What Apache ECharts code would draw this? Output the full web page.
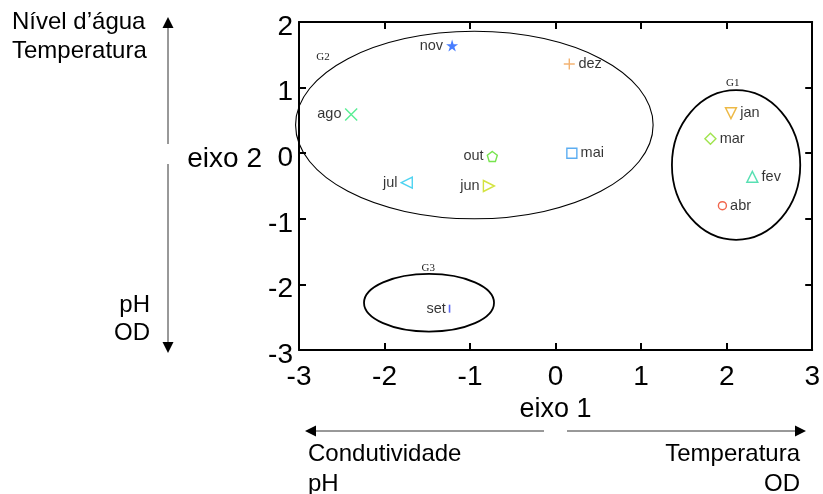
<!DOCTYPE html>
<html><head><meta charset="utf-8">
<script src="https://cdn.jsdelivr.net/npm/echarts@6/dist/echarts.min.js"></script>
<style>html,body{margin:0;padding:0;background:#fff}#c{width:823px;height:494px}</style>
</head><body><div id="c"></div>
<script>
// ---- data ----
const months = ['jan','fev','mar','abr','mai','jun','jul','ago','set','out','nov','dez'];
const eixo1 = [2.05, 2.30, 1.81, 1.95, 0.19, -0.78, -1.74, -2.39, -1.24, -0.74, -1.21, 0.16];
const eixo2 = [0.61, -0.36, 0.22, -0.80, 0.00, -0.50, -0.45, 0.59, -2.37, -0.05, 1.64, 1.36];
const xTicks = [-3, -2, -1, 0, 1, 2, 3];
const yTicks = [-3, -2, -1, 0, 1, 2];
const groups = ['G1', 'G2', 'G3'];
const groupCx = [2.11, -0.95, -1.48];
const groupCy = [-0.18, 0.43, -2.28];
const groupRx = [0.75, 2.09, 0.76];
const groupRy = [1.14, 1.43, 0.44];
const groupLabelX = [2.07, -2.72, -1.49];
const groupLabelY = [1.07, 1.47, -1.75];

// ---- styles ----
const SANS = '"Liberation Sans", Arial, Helvetica, sans-serif';
const SERIF = '"Liberation Serif", "Times New Roman", serif';
const groupLineWidth = {G1: 1.8, G2: 1.1, G3: 1.8};
const monthStyle = {
  jan: {c: '#e8a818', s: 'path://M0,0L10,0L5,10Z', z: 11, side: 'right', fill: false},
  fev: {c: '#2ed8a0', s: 'path://M5,0L10,10L0,10Z', z: 11, side: 'right', fill: false},
  mar: {c: '#88dd22', s: 'diamond', z: 11, side: 'right', fill: false},
  abr: {c: '#ee4020', s: 'circle', z: 8, side: 'right', fill: false},
  mai: {c: '#3399ee', s: 'rect', z: 10, side: 'right', fill: false},
  jun: {c: '#c8dc10', s: 'path://M10,5L0,0L0,10Z', z: 11, side: 'left', fill: false},
  jul: {c: '#22c8ee', s: 'path://M0,5L10,0L10,10Z', z: 11, side: 'left', fill: false},
  ago: {c: '#2ee878', s: 'path://M0,0L10,10M10,0L0,10', z: 12, side: 'left', fill: false},
  set: {c: '#3344ee', s: 'rect', z: [1.6, 8], side: 'left', fill: true},
  out: {c: '#55dd22', s: 'path://M5,0L10,3.8L8.1,10L1.9,10L0,3.8Z', z: 10, side: 'left', fill: false},
  nov: {c: '#1a5cff', s: 'path://M5,0L6.2,3.6L10,3.6L6.9,5.9L8.1,9.5L5,7.3L1.9,9.5L3.1,5.9L0,3.6L3.8,3.6Z', z: 12, side: 'left', fill: true},
  dez: {c: '#f0a050', s: 'path://M0,5L10,5M5,0L5,10', z: 11, side: 'right', fill: false}
};

const scatterData = months.map((m, i) => {
  const st = monthStyle[m];
  return {
    name: m,
    value: [eixo1[i], eixo2[i]],
    symbol: st.s,
    symbolSize: st.z,
    itemStyle: st.fill ? {color: st.c, borderWidth: 0} : {color: 'rgba(0,0,0,0)', borderColor: st.c, borderWidth: 1.4},
    label: {position: st.side}
  };
});

const axisCommon = {
  type: 'value',
  axisLine: {show: true, onZero: false, lineStyle: {color: '#000', width: 2}},
  axisTick: {show: true, inside: true, length: 7, lineStyle: {color: '#000', width: 2}},
  splitLine: {show: false}
};

const chart = echarts.init(document.getElementById('c'), null, {renderer: 'canvas'});
chart.setOption({
  animation: false,
  backgroundColor: '#fff',
  grid: {left: 299, right: 10, top: 22, bottom: 144, containLabel: false},
  xAxis: [
    Object.assign({}, axisCommon, {
      position: 'bottom', min: xTicks[0], max: xTicks[xTicks.length - 1], interval: 1,
      axisLabel: {fontSize: 28, color: '#000', margin: 13, fontFamily: SANS},
      name: 'eixo 1', nameLocation: 'middle', nameGap: 43,
      nameTextStyle: {fontSize: 27, color: '#000', fontFamily: SANS}
    }),
    Object.assign({}, axisCommon, {
      position: 'top', min: xTicks[0], max: xTicks[xTicks.length - 1], interval: 1,
      axisLabel: {show: false}
    })
  ],
  yAxis: [
    Object.assign({}, axisCommon, {
      position: 'left', min: yTicks[0], max: yTicks[yTicks.length - 1], interval: 1,
      axisLabel: {
        color: '#000', margin: 6,
        formatter: '{t|{value}}',
        rich: {t: {fontSize: 28, color: '#000', fontFamily: SANS, padding: [10, 0, 0, 0]}}
      }
    }),
    Object.assign({}, axisCommon, {
      position: 'right', min: yTicks[0], max: yTicks[yTicks.length - 1], interval: 1,
      axisLabel: {show: false}
    })
  ],
  series: [
    {
      type: 'custom',
      silent: true,
      z: 1,
      data: groups.map((g, i) => [groupCx[i], groupCy[i], groupRx[i], groupRy[i], groupLabelX[i], groupLabelY[i]]),
      renderItem: function (params, api) {
        const c = api.coord([api.value(0), api.value(1)]);
        const s = api.size([api.value(2), api.value(3)]);
        const lp = api.coord([api.value(4), api.value(5)]);
        const g = groups[params.dataIndex];
        return {
          type: 'group',
          children: [
            {type: 'ellipse', shape: {cx: c[0], cy: c[1], rx: s[0], ry: s[1]},
             style: {fill: 'none', stroke: '#000', lineWidth: groupLineWidth[g]}},
            {type: 'text', x: lp[0], y: lp[1],
             style: {text: g, fill: '#222', font: '11px ' + SERIF, align: 'center', verticalAlign: 'middle'}}
          ]
        };
      }
    },
    {
      type: 'scatter',
      z: 3,
      data: scatterData,
      label: {show: true, formatter: '{b}', distance: 3, color: '#000', fontSize: 14.5, fontFamily: SANS}
    }
  ],
  graphic: [
    // vertical arrow (eixo 2)
    {type: 'line', shape: {x1: 168, y1: 24, x2: 168, y2: 144}, style: {stroke: '#333', lineWidth: 1}},
    {type: 'line', shape: {x1: 168, y1: 164, x2: 168, y2: 343}, style: {stroke: '#333', lineWidth: 1}},
    {type: 'polygon', shape: {points: [[168, 17], [162.5, 28], [173.5, 28]]}, style: {fill: '#000'}},
    {type: 'polygon', shape: {points: [[168, 353], [162.5, 342], [173.5, 342]]}, style: {fill: '#000'}},
    // horizontal arrow (eixo 1)
    {type: 'line', shape: {x1: 312, y1: 431, x2: 544, y2: 431}, style: {stroke: '#333', lineWidth: 1}},
    {type: 'line', shape: {x1: 567, y1: 431, x2: 798, y2: 431}, style: {stroke: '#333', lineWidth: 1}},
    {type: 'polygon', shape: {points: [[305, 431], [316, 425.5], [316, 436.5]]}, style: {fill: '#000'}},
    {type: 'polygon', shape: {points: [[806, 431], [795, 425.5], [795, 436.5]]}, style: {fill: '#000'}},
    // texts
    {type: 'text', x: 12, y: 8, style: {text: 'Nível d’água\nTemperatura', fontSize: 24, lineHeight: 29, fontFamily: SANS, fill: '#000', align: 'left', verticalAlign: 'top'}},
    {type: 'text', x: 150, y: 291, style: {text: 'pH\nOD', fontSize: 24, lineHeight: 28, fontFamily: SANS, fill: '#000', align: 'right', verticalAlign: 'top'}},
    {type: 'text', x: 262, y: 159, style: {text: 'eixo 2', fontSize: 28, fontFamily: SANS, fill: '#000', align: 'right', verticalAlign: 'middle'}},
    {type: 'text', x: 308, y: 439, style: {text: 'Condutividade\npH', fontSize: 24, lineHeight: 30, fontFamily: SANS, fill: '#000', align: 'left', verticalAlign: 'top'}},
    {type: 'text', x: 800, y: 439, style: {text: 'Temperatura\nOD', fontSize: 24, lineHeight: 30, fontFamily: SANS, fill: '#000', align: 'right', verticalAlign: 'top'}}
  ]
});
</script>
</body></html>
